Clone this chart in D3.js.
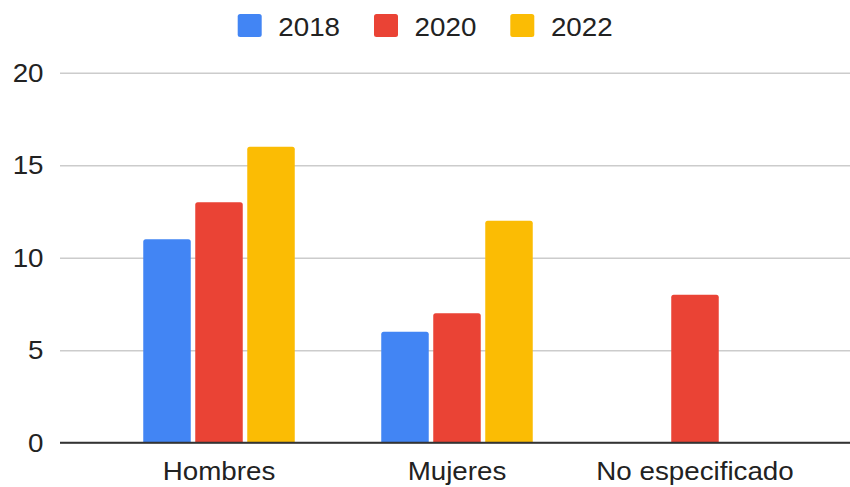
<!DOCTYPE html>
<html>
<head>
<meta charset="utf-8">
<script src="https://cdn.jsdelivr.net/npm/d3@7"></script>
<style>
  html, body { margin: 0; padding: 0; background: #fff; }
  svg { display: block; }
  text { font-family: "Liberation Sans", Arial, sans-serif; fill: #222; }
</style>
</head>
<body>
<svg id="chart" width="850" height="487"></svg>
<script>
const categories = ["Hombres", "Mujeres", "No especificado"];
const seriesNames = ["2018", "2020", "2022"];
const values2018 = [11, 6, 0];
const values2020 = [13, 7, 8];
const values2022 = [16, 12, 0];
const yTicks = [0, 5, 10, 15, 20];
const colors = ["#4285F4", "#EA4335", "#FBBC04"];

const seriesValues = [values2018, values2020, values2022];
const W = 850, H = 487;
const plotLeft = 60;
const y0 = 442.7, y20 = 72.7;
const fontSize = 25, stretch = 1.11;

const svg = d3.select("#chart");

const x = d3.scaleBand().domain(categories).range([61, 853])
  .paddingInner(0.3634).paddingOuter(0.3456);
const xs = d3.scaleBand().domain(seriesNames).range([0, x.bandwidth()])
  .paddingInner(0.0865).paddingOuter(0);
const y = d3.scaleLinear().domain([0, 20]).range([y0, y20]);

// gridlines
const yAxis = d3.axisLeft(y).tickValues(yTicks).tickSize(-(W - plotLeft)).tickFormat("");
const gAxis = svg.append("g").attr("transform", `translate(${plotLeft},0)`).call(yAxis);
gAxis.select(".domain").remove();
gAxis.selectAll(".tick line").attr("stroke", "#cccccc").attr("stroke-width", 1.6);

// y labels
svg.append("g").selectAll("text").data(yTicks).join("text")
  .attr("transform", d => `translate(43.5,${y(d)}) scale(${stretch},1)`)
  .attr("text-anchor", "end")
  .attr("dy", "0.36em")
  .attr("font-size", fontSize)
  .text(d => d);

// bars
const data = [];
categories.forEach((c, i) => seriesNames.forEach((s, j) => data.push({c, s, j, v: seriesValues[j][i]})));
function barPath(d) {
  const bx = x(d.c) + xs(d.s), bw = xs.bandwidth();
  const top = y(d.v), bottom = y(0);
  const h = bottom - top;
  if (h <= 0) return "";
  const r = Math.min(2.5, h);
  return `M${bx},${bottom}V${top + r}Q${bx},${top} ${bx + r},${top}H${bx + bw - r}Q${bx + bw},${top} ${bx + bw},${top + r}V${bottom}Z`;
}
svg.append("g").selectAll("path").data(data).join("path")
  .attr("d", barPath)
  .attr("fill", d => colors[d.j]);

// baseline
svg.append("line").attr("x1", plotLeft).attr("x2", W).attr("y1", y(0)).attr("y2", y(0))
  .attr("stroke", "#333").attr("stroke-width", 2);

// category labels
svg.append("g").selectAll("text").data(categories).join("text")
  .attr("transform", d => `translate(${x(d) + x.bandwidth() / 2},480) scale(${stretch},1)`)
  .attr("text-anchor", "middle")
  .attr("font-size", fontSize)
  .text(d => d);

// legend
const legendX = d3.scaleOrdinal().domain(seriesNames).range([237.7, 374, 510.3]);
const lg = svg.append("g").selectAll("g").data(seriesNames).join("g")
  .attr("transform", d => `translate(${legendX(d)},14)`);
lg.append("rect").attr("width", 24).attr("height", 23).attr("rx", 2.5)
  .attr("fill", (d, i) => colors[i]);
lg.append("text")
  .attr("transform", `translate(40.6,21.5) scale(${stretch},1)`)
  .attr("font-size", fontSize)
  .text(d => d);
</script>
</body>
</html>
